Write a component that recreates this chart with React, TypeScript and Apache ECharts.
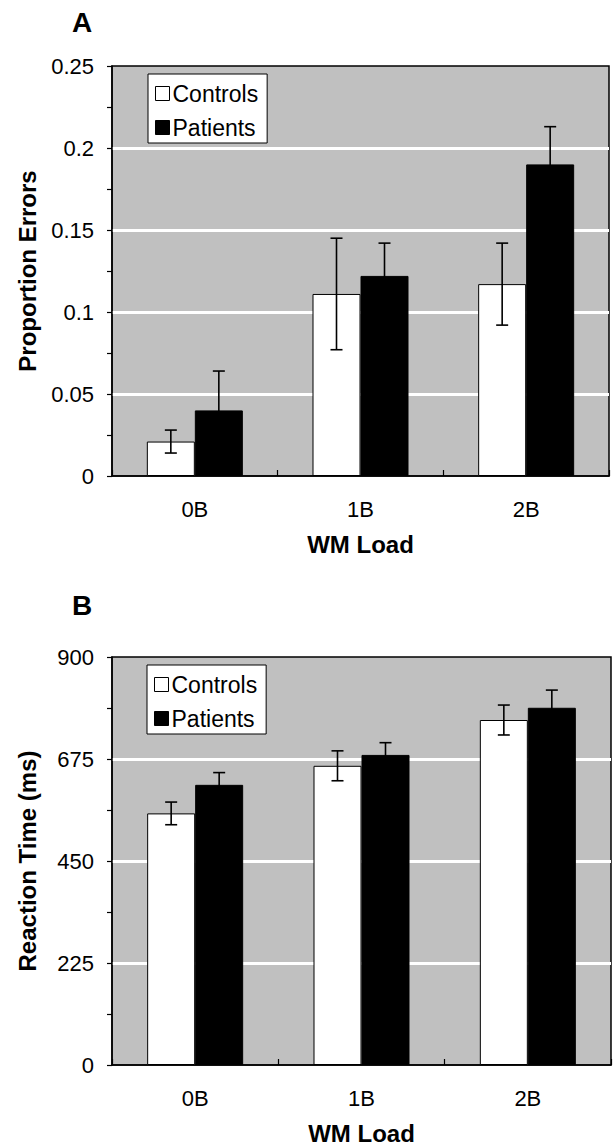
import React, { useEffect, useRef } from "react";
import * as echarts from "echarts";

const categories = ["0B", "1B", "2B"];
const seriesNames = ["Controls", "Patients"];

// Panel A: proportion errors
const errorsControls = [0.021, 0.111, 0.117];
const errorsControlsSE = [0.007, 0.034, 0.025];
const errorsPatients = [0.04, 0.122, 0.19];
const errorsPatientsSE = [0.024, 0.02, 0.023];
const errorsTicks = [0, 0.05, 0.1, 0.15, 0.2, 0.25];

// Panel B: reaction time (ms)
const rtControls = [555, 660, 761];
const rtControlsSE = [25, 33, 33];
const rtPatients = [618, 684, 788];
const rtPatientsSE = [27, 27, 39];
const rtTicks = [0, 225, 450, 675, 900];

const FONT = "'Liberation Sans', Arial, Helvetica, sans-serif";
const BAR_W = 48;
const GREY = "#c0c0c0";

function errData(vals: number[], se: number[]) {
  return vals.map((v, i) => [i, v, se[i]]);
}

function makeErrSeries(vals: number[], se: number[], side: number, gi: number) {
  return {
    type: "custom",
    xAxisIndex: gi,
    yAxisIndex: gi,
    z: 10,
    silent: true,
    encode: { x: 0, y: 1 },
    data: errData(vals, se),
    renderItem: (params: any, api: any) => {
      const i = api.value(0);
      const v = api.value(1);
      const e = api.value(2);
      const top = api.coord([i, v + e]);
      const bot = api.coord([i, v - e]);
      const x = top[0] + side * (BAR_W / 2);
      const cap = 6;
      const style = { stroke: "#000", lineWidth: 1.6 };
      return {
        type: "group",
        children: [
          { type: "line", shape: { x1: x, y1: top[1], x2: x, y2: bot[1] }, style },
          { type: "line", shape: { x1: x - cap, y1: top[1], x2: x + cap, y2: top[1] }, style },
          { type: "line", shape: { x1: x - cap, y1: bot[1], x2: x + cap, y2: bot[1] }, style },
        ],
      };
    },
  };
}

function xAxisFor(gi: number) {
  return {
    type: "category",
    gridIndex: gi,
    data: categories,
    boundaryGap: true,
    name: "WM Load",
    nameLocation: "middle",
    nameGap: 56,
    nameTextStyle: { fontFamily: FONT, fontSize: 24, fontWeight: "bold", color: "#000" },
    axisLine: { show: true, lineStyle: { color: "#000", width: 1.5 } },
    axisTick: { show: true, inside: true, length: 6, lineStyle: { color: "#000", width: 1.2 } },
    axisLabel: { fontFamily: FONT, fontSize: 22, color: "#000", margin: 22 },
    splitLine: { show: false },
  };
}

function yAxisFor(gi: number, ticks: number[], name: string) {
  const max = ticks[ticks.length - 1];
  const interval = ticks[1] - ticks[0];
  return {
    type: "value",
    gridIndex: gi,
    min: 0,
    max,
    interval,
    name,
    nameLocation: "middle",
    nameGap: 73,
    nameRotate: 90,
    nameTextStyle: { fontFamily: FONT, fontSize: 24, fontWeight: "bold", color: "#000" },
    axisLine: { show: true, lineStyle: { color: "#000", width: 1.5 } },
    axisTick: { show: true, inside: false, length: 5, lineStyle: { color: "#000", width: 1.2 } },
    minorTick: { show: true, splitNumber: 2, length: 5, lineStyle: { color: "#000", width: 1.2 } },
    axisLabel: { fontFamily: FONT, fontSize: 22, color: "#000", margin: 18 },
    splitLine: {
      show: true,
      showMinLine: false,
      showMaxLine: false,
      lineStyle: { color: "#ffffff", width: 3 },
    },
  };
}

function legendFor(left: number, top: number) {
  return {
    left,
    top,
    orient: "vertical",
    backgroundColor: "#ffffff",
    borderColor: "#000",
    borderWidth: 1,
    padding: [7, 9, 3, 7],
    itemGap: 9,
    itemWidth: 14,
    itemHeight: 14,
    icon: "rect",
    selectedMode: false,
    textStyle: { fontFamily: FONT, fontSize: 23, color: "#000", lineHeight: 25, padding: [0, 0, 0, -2] },
    data: [
      { name: seriesNames[0], itemStyle: { color: "#fff", borderColor: "#000", borderWidth: 1 } },
      { name: seriesNames[1], itemStyle: { color: "#000", borderColor: "#000", borderWidth: 1 } },
    ],
  };
}

function barSeries(gi: number, name: string, vals: number[], color: string) {
  return {
    type: "bar",
    name,
    xAxisIndex: gi,
    yAxisIndex: gi,
    data: vals,
    barWidth: BAR_W,
    barGap: "0%",
    itemStyle: { color, borderColor: "#000", borderWidth: 1 },
    z: 5,
  };
}

export default function App() {
  const ref = useRef<HTMLDivElement>(null);
  useEffect(() => {
    document.body.style.margin = "0";
    if (!ref.current) return;
    const chart = echarts.init(ref.current, null, { renderer: "svg" });
    chart.setOption({
      animation: false,
      backgroundColor: "#ffffff",
      textStyle: { fontFamily: FONT },
      grid: [
        {
          left: 112,
          top: 66,
          width: 497,
          height: 410,
          show: true,
          backgroundColor: GREY,
          borderColor: "#000",
          borderWidth: 1.5,
        },
        {
          left: 112,
          top: 657,
          width: 499,
          height: 409,
          show: true,
          backgroundColor: GREY,
          borderColor: "#000",
          borderWidth: 1.5,
        },
      ],
      legend: [legendFor(148, 74), legendFor(147, 665)],
      xAxis: [xAxisFor(0), xAxisFor(1)],
      yAxis: [
        yAxisFor(0, errorsTicks, "Proportion Errors"),
        yAxisFor(1, rtTicks, "Reaction Time (ms)"),
      ],
      graphic: [
        {
          type: "text",
          left: 72,
          top: 8,
          style: { text: "A", fontFamily: FONT, fontSize: 28, fontWeight: "bold", fill: "#000" },
        },
        {
          type: "text",
          left: 72,
          top: 591,
          style: { text: "B", fontFamily: FONT, fontSize: 28, fontWeight: "bold", fill: "#000" },
        },
      ],
      series: [
        barSeries(0, seriesNames[0], errorsControls, "#ffffff"),
        barSeries(0, seriesNames[1], errorsPatients, "#000000"),
        makeErrSeries(errorsControls, errorsControlsSE, -1, 0),
        makeErrSeries(errorsPatients, errorsPatientsSE, 1, 0),
        barSeries(1, seriesNames[0], rtControls, "#ffffff"),
        barSeries(1, seriesNames[1], rtPatients, "#000000"),
        makeErrSeries(rtControls, rtControlsSE, -1, 1),
        makeErrSeries(rtPatients, rtPatientsSE, 1, 1),
      ],
    });
    return () => chart.dispose();
  }, []);
  return <div ref={ref} style={{ width: 615, height: 1146 }} />;
}
